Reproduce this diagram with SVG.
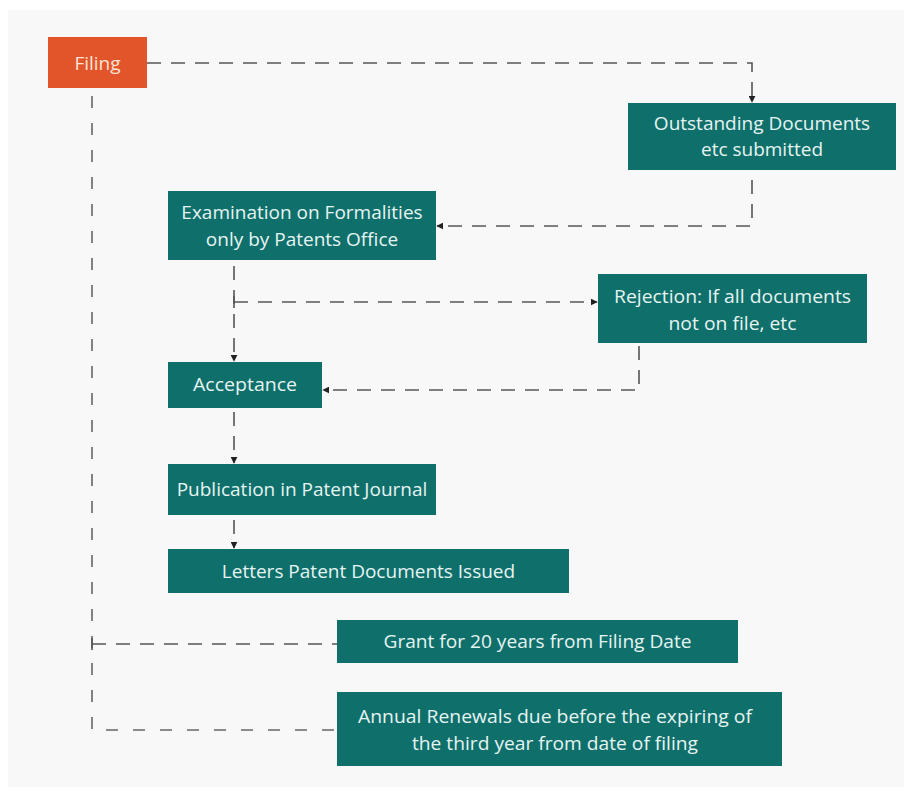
<svg xmlns="http://www.w3.org/2000/svg" width="904" height="797" viewBox="0 0 904 797">
<defs>
<style>
.box{fill:#0f6f6b;}
.t{font-family:"Open Sans","Liberation Sans",sans-serif;font-size:19px;fill:#e6f4f2;text-anchor:middle;}
.c{stroke:#555;stroke-width:1.6;fill:none;stroke-dasharray:14 10;}
.cv{stroke:#666;stroke-width:1.6;fill:none;stroke-dasharray:12 15;}
</style>
<marker id="ah" viewBox="0 0 10 10" refX="9" refY="5" markerWidth="7" markerHeight="7" orient="auto" markerUnits="userSpaceOnUse">
<path d="M0,0 L10,5 L0,10 Z" fill="#222"/>
</marker>
</defs>
<rect x="0" y="0" width="904" height="797" fill="#ffffff"/>
<rect x="8" y="10" width="896" height="777" fill="#f8f8f8"/>

<g id="connectors">
<path class="c" d="M147,63 H752 V102" marker-end="url(#ah)"/>
<path class="c" d="M752,180 V226 H437" marker-end="url(#ah)"/>
<path class="c" d="M234,266 V361" marker-end="url(#ah)"/>
<path class="c" d="M234,302 H597" marker-end="url(#ah)"/>
<path d="M234,296 V308" stroke="#555" stroke-width="1.6"/>
<path class="c" d="M639,346 V390 H323" marker-end="url(#ah)"/>
<path class="c" d="M234,412 V463" marker-end="url(#ah)"/>
<path class="c" d="M234,520 V548" marker-end="url(#ah)"/>
<path class="cv" d="M92,96 V730 H337"/>
<path class="c" d="M92,644 H337"/>
<path d="M92,638 V650" stroke="#555" stroke-width="1.6"/>
</g>

<g id="filing">
<rect x="48" y="37" width="99" height="51" fill="#e2552a"/>
<text class="t" x="97.5" y="70" style="fill:#fde3d6">Filing</text>
</g>
<g id="outstanding">
<rect class="box" x="628" y="103" width="268" height="67"/>
<text class="t" x="762" y="130">Outstanding Documents</text>
<text class="t" x="762" y="156">etc submitted</text>
</g>
<g id="examination">
<rect class="box" x="168" y="191" width="268" height="69"/>
<text class="t" x="302" y="219">Examination on Formalities</text>
<text class="t" x="302" y="246">only by Patents Office</text>
</g>
<g id="rejection">
<rect class="box" x="598" y="274" width="269" height="69"/>
<text class="t" x="732.5" y="303" textLength="237" lengthAdjust="spacingAndGlyphs">Rejection: If all documents</text>
<text class="t" x="732.5" y="330" textLength="128" lengthAdjust="spacingAndGlyphs">not on file, etc</text>
</g>
<g id="acceptance">
<rect class="box" x="168" y="362" width="154" height="46"/>
<text class="t" x="245" y="391" textLength="104" lengthAdjust="spacingAndGlyphs">Acceptance</text>
</g>
<g id="publication">
<rect class="box" x="168" y="464" width="268" height="51"/>
<text class="t" x="302" y="496">Publication in Patent Journal</text>
</g>
<g id="letters">
<rect class="box" x="168" y="549" width="401" height="44"/>
<text class="t" x="368.5" y="578">Letters Patent Documents Issued</text>
</g>
<g id="grant">
<rect class="box" x="337" y="620" width="401" height="43"/>
<text class="t" x="537.5" y="648" textLength="308" lengthAdjust="spacingAndGlyphs">Grant for 20 years from Filing Date</text>
</g>
<g id="annual">
<rect class="box" x="337" y="692" width="445" height="74"/>
<text class="t" x="555" y="723" textLength="394" lengthAdjust="spacingAndGlyphs">Annual Renewals due before the expiring of</text>
<text class="t" x="555" y="750" textLength="286" lengthAdjust="spacingAndGlyphs">the third year from date of filing</text>
</g>
</svg>
